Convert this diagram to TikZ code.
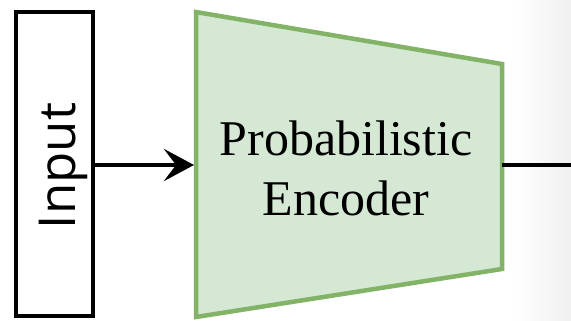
\documentclass[tikz,border=0pt]{standalone}
\usepackage{fontspec}
\setmainfont{Liberation Serif}
\newfontfamily\labelsans{Open Sans}
\usetikzlibrary{arrows.meta}
\definecolor{encfill}{HTML}{D5E8D4}
\definecolor{encdraw}{HTML}{82B366}
\tikzset{
  inbox/.style={draw=black, line width=4.5pt, fill=white},
  encshape/.style={draw=encdraw, fill=encfill, line width=4.5pt, line join=miter},
  flow/.style={line width=4.5pt, draw=black},
}
\begin{document}
\begin{tikzpicture}[x=1pt,y=-1pt]
  \useasboundingbox (0,0) rectangle (571,321);
  % soft grey fade at the right border
  \shade[left color=white, right color=black!6, draw=none] (515,0) rectangle (571,321);

  % input block
  \draw[inbox] (16,12) rectangle (93,316);
  \coordinate (inR) at (93,165);
  \node[font=\labelsans\fontsize{51}{60}\selectfont, rotate=90, anchor=base, inner sep=0pt] (inlabel) at (75,166) {Input};

  % encoder trapezoid
  \coordinate (e1) at (196,12);
  \coordinate (e2) at (502,64);
  \coordinate (e3) at (502,269);
  \coordinate (e4) at (196,317);
  \draw[encshape] (e1) -- (e2) -- (e3) -- (e4) -- cycle;
  \coordinate (encL) at (194,165);
  \coordinate (encR) at (502,165);
  \node[align=center, font=\fontsize{50}{60}\selectfont, inner sep=0pt] (enclabel) at (346,168) {Probabilistic\\Encoder};

  % connectors
  \coordinate (out) at (571,165);
  \draw[flow, -{Stealth[length=30pt, width=32pt, inset=12pt]}] (inR) -- (encL);
  \draw[flow] (encR) -- (out);
\end{tikzpicture}
\end{document}
